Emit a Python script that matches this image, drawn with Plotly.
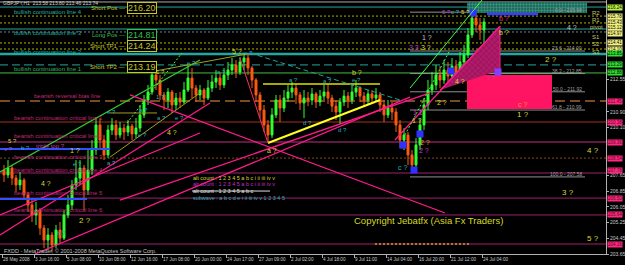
import plotly.graph_objects as go

# ---------------- data ----------------
bar_index = list(range(121))
opens = [207.93, 207.68, 208.03, 207.52, 207.17, 207.42, 206.66, 206.15, 205.64, 205.89,
         204.97, 204.36, 204.62, 204.11, 204.87, 204.46, 205.64, 206.15, 207.17, 207.52,
         208.03, 206.91, 207.93, 208.95, 210.23, 209.46, 208.70, 209.97, 210.23, 209.72,
         210.07, 209.87, 210.17, 209.77, 210.07, 210.74, 211.50, 211.91, 212.78, 212.52,
         211.76, 211.50, 211.91, 211.25, 211.60, 211.40, 212.01, 212.62, 212.11, 211.76,
         212.01, 211.60, 212.11, 212.42, 212.62, 212.27, 212.78, 213.03, 213.29, 212.93,
         213.44, 213.64, 213.13, 212.52, 211.76, 210.99, 210.23, 209.72, 210.74, 211.50,
         211.09, 211.60, 211.91, 212.11, 211.76, 211.35, 211.60, 211.50, 211.81, 211.40,
         211.70, 211.91, 211.60, 211.19, 210.89, 211.40, 211.70, 211.50, 211.91, 212.11,
         211.70, 211.50, 211.81, 211.60, 211.76, 211.25, 210.74, 211.09, 210.89, 210.23,
         209.46, 209.72, 208.70, 208.19, 209.21, 210.23, 211.25, 212.01, 212.27, 212.78,
         212.52, 213.03, 212.72, 213.23, 212.93, 213.44, 213.80, 214.82, 215.68, 215.33,
         215.07]
highs = [208.19, 208.44, 208.19, 207.68, 207.83, 207.52, 206.81, 206.40, 206.30, 205.99,
         205.13, 204.97, 204.77, 205.13, 205.28, 205.89, 206.66, 207.42, 208.44, 208.44,
         208.19, 208.95, 209.46, 210.63, 210.58, 209.72, 210.23, 210.58, 210.48, 210.38,
         210.28, 210.48, 210.28, 210.58, 211.25, 211.76, 212.27, 213.13, 213.39, 212.78,
         211.91, 212.11, 212.01, 211.86, 211.91, 212.42, 213.29, 213.13, 212.27, 212.27,
         212.11, 212.52, 212.78, 213.03, 212.93, 213.13, 213.44, 213.64, 213.54, 213.69,
         213.90, 213.85, 213.23, 212.62, 211.91, 211.25, 210.48, 211.09, 211.76, 211.76,
         212.01, 212.27, 212.42, 212.32, 211.91, 212.01, 211.91, 212.11, 211.91, 212.01,
         212.27, 212.32, 211.76, 211.50, 211.60, 212.01, 211.91, 212.32, 212.52, 212.21,
         211.91, 212.01, 212.01, 212.11, 211.91, 211.50, 211.50, 211.40, 211.09, 210.48,
         210.07, 209.87, 208.95, 209.56, 210.58, 211.60, 212.52, 212.93, 213.29, 213.23,
         213.54, 213.44, 213.64, 213.54, 213.95, 214.31, 215.17, 216.09, 215.94, 215.68,
         215.68]
lows = [207.32, 207.52, 207.17, 206.81, 206.91, 206.40, 205.79, 205.28, 205.13, 204.62,
        203.95, 203.85, 203.75, 203.95, 204.16, 204.36, 205.48, 205.89, 206.91, 207.17,
        205.89, 206.66, 207.68, 208.70, 208.95, 208.44, 208.54, 209.72, 209.46, 209.56,
        209.46, 209.66, 209.46, 209.56, 209.87, 210.58, 211.25, 211.76, 212.01, 211.50,
        210.99, 211.09, 210.84, 210.99, 211.09, 211.30, 211.91, 211.60, 211.40, 211.50,
        211.25, 211.50, 211.91, 212.11, 212.01, 212.11, 212.52, 212.78, 212.62, 212.78,
        213.03, 212.78, 212.11, 211.40, 210.58, 209.87, 209.36, 209.56, 210.58, 210.38,
        210.89, 211.40, 211.60, 211.30, 210.99, 210.58, 211.19, 211.25, 211.09, 211.19,
        211.50, 211.30, 210.89, 210.48, 210.28, 211.19, 211.09, 211.30, 211.65, 211.40,
        211.19, 211.30, 211.35, 211.40, 210.89, 210.38, 210.58, 210.48, 209.87, 209.05,
        208.95, 208.19, 207.78, 207.93, 208.95, 209.97, 210.99, 211.76, 212.01, 212.11,
        212.32, 212.42, 212.52, 212.62, 212.78, 213.13, 213.64, 214.66, 214.97, 214.56,
        213.80]
closes = [207.68, 208.03, 207.52, 207.17, 207.42, 206.66, 206.15, 205.64, 205.89, 204.97,
          204.36, 204.62, 204.11, 204.87, 204.46, 205.64, 206.15, 207.17, 207.52, 208.03,
          206.91, 207.93, 208.95, 210.23, 209.46, 208.70, 209.97, 210.23, 209.72, 210.07,
          209.87, 210.17, 209.77, 210.07, 210.74, 211.50, 211.91, 212.78, 212.52, 211.76,
          211.50, 211.91, 211.25, 211.60, 211.40, 212.01, 212.62, 212.11, 211.76, 212.01,
          211.60, 212.11, 212.42, 212.62, 212.27, 212.78, 213.03, 213.29, 212.93, 213.44,
          213.64, 213.13, 212.52, 211.76, 210.99, 210.23, 209.72, 210.74, 211.50, 211.09,
          211.60, 211.91, 212.11, 211.76, 211.35, 211.60, 211.50, 211.81, 211.40, 211.70,
          211.91, 211.60, 211.19, 210.89, 211.40, 211.70, 211.50, 211.91, 212.11, 211.70,
          211.50, 211.81, 211.60, 211.76, 211.25, 210.74, 211.09, 210.89, 210.23, 209.46,
          209.72, 208.70, 208.19, 209.21, 210.23, 211.25, 212.01, 212.27, 212.78, 212.52,
          213.03, 212.72, 213.23, 212.93, 213.44, 213.80, 214.82, 215.68, 215.33, 215.07,
          215.48]

date_ticks = [-0.5, 7.5, 15.5, 23.5, 31.5, 39.5, 47.5, 55.5, 63.5, 71.5, 79.5, 87.5,
              95.5, 103.5, 111.5, 119.5]
date_labels = ["28 May 2008", "3 Jun 16:00", "5 Jun 08:00", "10 Jun 08:00", "12 Jun 16:00",
               "17 Jun 08:00", "20 Jun 00:00", "24 Jun 17:00", "27 Jun 09:00", "2 Jul 02:00",
               "4 Jul 18:00", "9 Jul 11:00", "14 Jul 04:00", "16 Jul 20:00", "21 Jul 12:00",
               "24 Jul 04:00"]
price_ticks = [203.65, 204.45, 205.25, 206.05, 206.85, 207.65, 210.10, 210.90, 212.55]

# horizontal levels
level_prices = [216.50, 216.24, 215.78, 215.43, 215.12, 214.97, 214.41, 214.10, 213.85,
                213.29, 212.88, 211.45, 210.38, 209.36, 208.54, 207.78, 206.50, 205.64, 204.16]
level_colors = ["#a8a8a8", "#20a8a0", "#b0b000", "#b0b000", "#20a8a0", "#808080", "#b0b000",
                "#b0b000", "#20a8a0", "#20a8a0", "#40c040", "#7a4a20", "#a03020", "#c03080",
                "#8b4513", "#a02070", "#a02070", "#a02070", "#a02070"]
level_widths = [1, 1, 1, 1, 1, 1, 1, 1, 2.5, 1, 1, 2, 1, 1, 1, 1, 1, 1, 1]
level_dashes = ["solid", "solid", "2px,2px", "2px,2px", "solid", "2px,2px", "2px,2px",
                "2px,2px", "solid", "8px,4px", "solid", "10px,5px", "solid", "solid",
                "2px,2px", "solid", "solid", "solid", "solid"]
level_tags = [None, "#b8f040", "#f0f080", "#f0f080", "#f0f080", "#f0f080", "#f0f080",
              "#f0f080", "#30e030", "#30e030", "#30e030", "#ff2a80", "#ff2a80", "#ff2a80",
              "#ff2a80", "#ff2a80", "#ff2a80", "#ff2a80", "#ff2a80"]
level_tag_shift = [0, 0, 0, 0, 1.5, -1.5, 0, 0, 0, 0, 0, 0, 0, 0, 0, 2, 0, 0, 0]

# line names (text, bar index, price, colour)
line_names = ["bullish continuation line 4", "bullish continuation line 3",
              "bullish continuation line 2", "bullish continuation line 1",
              "bearish reversal bias line", "bearish continuation critical line 1",
              "bearish continuation critical line 2", "triple top ?",
              "bearish continuation critical line 3", "bearish continuation critical line 4",
              "bearish continuation critical line 5", "bearish continuation critical line 6"]
line_name_x = [2.25, 2.25, 2.25, 2.25, 7.25, 2.25, 2.25, 7.75, 2.25, 2.25, 2.25, 2.25]
line_name_p = [215.99, 214.92, 213.95, 213.08, 211.70, 210.58, 209.66, 209.16, 208.60,
               207.93, 206.76, 205.89]
line_name_colors = ["#20b0a0", "#20b0a0", "#20b0a0", "#30b060", "#c02878", "#c02878",
                    "#c02878", "#c040a0", "#c02878", "#c02878", "#c02878", "#c02878"]

# position boxes
pos_names = ["Short Pos", "Long Pos", "Short TP1", "Short TP2"]
pos_prices = [216.20, 214.81, 214.24, 213.19]
pos_colors = ["#c8c820", "#30c050", "#c8c820", "#c8c820"]

# fibonacci
fib_levels = ["0.0", "23.6", "38.2", "50.0", "61.8", "100.0"]
fib_prices = [215.98, 214.00, 212.85, 211.92, 210.99, 207.58]
fib_x = [101.5, 145.25]

# trend lines: x0, p0, x1, p1, colour, width, dash
trend_lines = [
    (-1, 207.83, 49, 213.54, "#32cd32", 1.2, "solid"),
    (36.5, 212.93, 60.75, 213.85, "#a0a020", 1, "solid"),
    (26.5, 208.59, 49, 211.86, "#a0a020", 1, "solid"),
    (26.5, 210.84, 38.25, 210.84, "#a0a020", 1, "solid"),
    (66, 209.31, 94, 211.50, "#ffff20", 2, "solid"),
    (64.75, 212.32, 94, 212.32, "#e0e000", 1.5, "solid"),
    (-1, 205.64, 49, 209.82, "#ff1a8c", 1.3, "solid"),
    (-1, 204.62, 51.5, 211.35, "#ff1a8c", 1.3, "solid"),
    (7.75, 203.65, 101.5, 211.65, "#ff1a8c", 1.3, "solid"),
    (29, 206.40, 106.5, 211.86, "#ff1a8c", 1.3, "solid"),
    (31.5, 211.76, 110.25, 205.74, "#ff1a8c", 1.3, "solid"),
    (97.75, 209.46, 124, 215.27, "#ff1a8c", 1.3, "solid"),
    (101.5, 212.11, 119.5, 216.60, "#40ff40", 1, "solid"),
    (30.75, 210.33, 44.5, 213.90, "#40ff40", 1, "2px,2px"),
    (100.25, 209.72, 111.5, 214.05, "#40ff40", 1, "2px,2px"),
    (61.5, 213.90, 99, 211.50, "#20a0a0", 1, "5px,3px"),
    (59, 213.64, 66, 209.31, "#ff3070", 1, "solid"),
    (92.75, 204.16, 116.5, 204.16, "#d0a020", 1.5, "2px,2px"),
    (-1, 209.00, 26.5, 209.00, "#3050ff", 2, "solid"),
    (-1, 206.45, 20.75, 206.45, "#3050ff", 2, "solid"),
    (120.75, 215.88, 133.5, 215.88, "#3a3aff", 2.5, "solid"),
]

# wave labels: bar index, price, text, colour, size
wave_labels = [
    (58.25, 214.00, "5 ?", "#d8d830", 7), (61, 213.90, "e ?", "#20b0c0", 6),
    (88.25, 212.88, "b ?", "#d8d830", 7), (88, 212.50, "e ?", "#20b0c0", 6),
    (54.25, 212.93, "a ?", "#20b0c0", 6), (72.25, 212.52, "a ?", "#20b0c0", 6),
    (80.75, 212.47, "a ?", "#20b0c0", 6), (39, 212.93, "1 ?", "#d8d830", 6),
    (46.75, 213.39, "e ?", "#20b0c0", 6), (26.75, 210.89, "e ?", "#20b0c0", 6),
    (26.75, 208.30, "a ?", "#20b0c0", 6), (17.75, 208.95, "1 ?", "#d8d830", 7),
    (18.25, 208.24, "e ?", "#20b0c0", 6), (34.75, 210.99, "a ?", "#20b0c0", 6),
    (34.5, 209.72, "e ?", "#20b0c0", 6), (39, 211.65, "1 ?", "#20b0c0", 6),
    (39.25, 210.58, "a ?", "#20b0c0", 6), (43.75, 210.58, "e ?", "#20b0c0", 6),
    (42, 209.82, "4 ?", "#d8d830", 7), (2, 209.40, "5 ?", "#d8d830", 6),
    (1, 208.98, "v ?", "#c040c0", 6), (5.25, 209.06, "b ?", "#20b0c0", 6),
    (10.5, 207.27, "4 ?", "#d8d830", 7), (20.25, 205.38, "2 ?", "#d8d830", 8),
    (14.25, 204.72, "b ?", "#20b0c0", 6), (67, 208.95, "a ?", "#d8d830", 7),
    (75.75, 210.33, "d ?", "#20b0c0", 6), (84.5, 209.97, "d ?", "#20b0c0", 6),
    (99.5, 208.08, "c ?", "#20b0c0", 7), (110.5, 215.99, "5 ?", "#c040c0", 6),
    (112.75, 215.99, "c ?", "#20b0c0", 6), (115.25, 215.99, "5 ?", "#d8d830", 6),
    (125, 215.68, "b ?", "#e03090", 7), (125, 214.92, "b ?", "#d8d830", 7),
    (142, 215.22, "4 ?", "#c0c0c0", 7), (105.75, 214.71, "1 ?", "#c0c0c0", 7),
    (102.5, 214.20, "3 3", "#c040c0", 7), (105.5, 214.20, "3 ?", "#d8d830", 7),
    (136.75, 213.59, "2 ?", "#d8d830", 8), (121.75, 212.62, "3 ?", "#e03090", 6),
    (114, 212.42, "4 ?", "#d8d830", 7), (109.5, 211.35, "2 ?", "#d8d830", 7),
    (129.5, 211.25, "c ?", "#ff9020", 7), (129.75, 210.74, "1 ?", "#d8d830", 8),
    (103.5, 210.89, "1 1", "#c040c0", 7), (103.25, 210.48, "1 ?", "#d8d830", 7),
    (105.25, 209.31, "2 ?", "#ff9020", 7), (105, 208.95, "2 ?", "#c040c0", 7),
    (147.25, 208.95, "4 ?", "#d8d830", 8), (141, 206.81, "3 ?", "#d8d830", 8),
    (147.25, 204.46, "5 ?", "#d8d830", 8),
]

pivot_names = ["R2", "R1", "pivot", "S1", "S2", "S3"]
pivot_prices = [215.94, 215.58, 215.22, 214.71, 214.36, 213.95]

count_texts = ["alt count : 1 2 3 4 5 a b c i ii iii iv v",
               "alt count : 1 2 3 4 5 a b c i ii iii iv v",
               "alt count : 1 2 3 4 5 a b c",
               "subwave : a b c d e i ii iii iv v 1 2 3 4 5"]
count_prices = [207.52, 207.20, 206.86, 206.50]
count_colors = ["#d8d830", "#c030c0", "#e0e0e0", "#20b0b0"]

# boxes
pink_box = dict(x=[115.75, 137], p=[211.04, 212.78])
green_box = dict(x=[115.75, 145.75], p=[215.94, 216.50])
triangle = dict(x=[109, 124, 124], p=[212.01, 215.27, 213.03])
blue_marks_x = [99.75, 102.5, 104, 111.75, 117.25]
blue_marks_p = [209.20, 207.93, 209.77, 212.98, 215.94]
purple_marks_x = [123.5]
purple_marks_p = [212.93]

FONT = "Liberation Sans, Arial, sans-serif"

fig = go.Figure()

# fills
fig.add_trace(go.Scatter(
    x=[green_box["x"][0], green_box["x"][1], green_box["x"][1], green_box["x"][0]],
    y=[green_box["p"][0], green_box["p"][0], green_box["p"][1], green_box["p"][1]],
    fill="toself", mode="lines", line=dict(width=0, color="#40a090"),
    fillcolor="#1d5a50",
    fillpattern=dict(shape=".", fgcolor="#50d0b0", bgcolor="#1d5a50", size=3, solidity=0.5),
    hoverinfo="skip"))
fig.add_trace(go.Scatter(
    x=[pink_box["x"][0], pink_box["x"][1], pink_box["x"][1], pink_box["x"][0]],
    y=[pink_box["p"][0], pink_box["p"][0], pink_box["p"][1], pink_box["p"][1]],
    fill="toself", mode="lines", line=dict(width=0), fillcolor="#ff1464", hoverinfo="skip"))
fig.add_trace(go.Scatter(
    x=triangle["x"], y=triangle["p"], fill="toself", mode="lines",
    line=dict(width=1, color="#ff1a8c"), fillcolor="#9a1458",
    fillpattern=dict(shape="x", fgcolor="#6a0a40", bgcolor="#b01a68", size=4, solidity=0.3),
    hoverinfo="skip"))

# candles
fig.add_trace(go.Candlestick(
    x=bar_index, open=opens, high=highs, low=lows, close=closes,
    increasing=dict(line=dict(color="#30ff30", width=1), fillcolor="#30ff30"),
    decreasing=dict(line=dict(color="#ff5a10", width=1), fillcolor="#ff5a10"),
    whiskerwidth=0, hoverinfo="skip"))

# markers
fig.add_trace(go.Scatter(x=blue_marks_x, y=blue_marks_p, mode="markers",
                         marker=dict(symbol="square", size=7, color="#3030ff"), hoverinfo="skip"))
fig.add_trace(go.Scatter(x=purple_marks_x, y=purple_marks_p, mode="markers",
                         marker=dict(symbol="square", size=7, color="#8040ff"), hoverinfo="skip"))

shapes = []
for p, c, w, d in zip(level_prices, level_colors, level_widths, level_dashes):
    shapes.append(dict(type="line", xref="paper", x0=0, x1=1, yref="y", y0=p, y1=p,
                       line=dict(color=c, width=w, dash=d), layer="below"))
for fp in fib_prices:
    shapes.append(dict(type="line", xref="x", x0=fib_x[0], x1=fib_x[1], yref="y", y0=fp, y1=fp,
                       line=dict(color="#909090", width=1), layer="below"))
for x0, p0, x1, p1, c, w, d in trend_lines:
    shapes.append(dict(type="line", xref="x", x0=x0, x1=x1, yref="y", y0=p0, y1=p1,
                       line=dict(color=c, width=w, dash=d), layer="above"))
# strike line through the white count text
shapes.append(dict(type="line", xref="x", x0=47, x1=66.5, yref="y",
                   y0=count_prices[2], y1=count_prices[2], line=dict(color="#e0e0e0", width=1)))

ann = []
def txt(x, y, t, color, size, xanchor="left", xref="x", **kw):
    ann.append(dict(x=x, y=y, xref=xref, yref="y", text=t, showarrow=False,
                    xanchor=xanchor, yanchor="middle",
                    font=dict(family=FONT, size=size, color=color), **kw))

for n, x, p, c in zip(line_names, line_name_x, line_name_p, line_name_colors):
    txt(x, p, n, c, 6, borderpad=0)

for n, p, c in zip(pos_names, pos_prices, pos_colors):
    txt(30.5, p, n + " \u2014", c, 6, xanchor="right", borderpad=0)
    txt(30.75, p, f"{p:.2f}", c, 9, bordercolor=c, borderwidth=1, borderpad=0, bgcolor="#000000")

for lv, fp in zip(fib_levels, fib_prices):
    txt(144.75, fp + 0.13, f"{lv} - {fp:.2f}", "#a0a0a0", 5, xanchor="right", borderpad=0)

for x, p, t, c, s in wave_labels:
    txt(x, p, t, c, s, xanchor="center", borderpad=0)

for n, p in zip(pivot_names, pivot_prices):
    txt(148, p, n, "#c8c870", 6, xanchor="center", borderpad=0)

for t, p, c in zip(count_texts, count_prices, count_colors):
    txt(47, p, t, c, 5.5, borderpad=0)

# price tags on the right axis
for p, tag, sh in zip(level_prices, level_tags, level_tag_shift):
    if tag is None:
        continue
    tc = "#000000" if tag != "#ff2a80" else "#5a0020"
    ann.append(dict(x=1, y=p, xref="paper", yref="y", text=f"{p:.2f}", showarrow=False,
                    xanchor="left", yanchor="middle", xshift=1, yshift=sh, bgcolor=tag,
                    borderpad=0, font=dict(family=FONT, size=4.5, color=tc)))

txt(-0.5, 216.45, "GBPJPY,H1  213.58 213.80 213.46 213.74", "#d0d0d0", 5, borderpad=0)
txt(-0.25, 203.82, "FXDD - MetaTrader, \u00a9 2001-2008 MetaQuotes Software Corp.", "#c0c0c0", 5.5,
    borderpad=0)
txt(87, 205.35, "Copyright Jebatfx (Asia Fx Traders)", "#d8d820", 9.5)

fig.update_layout(
    width=625, height=265, margin=dict(l=0, r=19, t=0, b=11),
    paper_bgcolor="#000000", plot_bgcolor="#000000", showlegend=False,
    shapes=shapes, annotations=ann,
    xaxis=dict(range=[-1, 150.5], showgrid=False, zeroline=False, showline=True,
               linecolor="#b0b0b0", linewidth=1, ticks="outside", ticklen=3,
               tickcolor="#b0b0b0", tickvals=date_ticks, ticktext=date_labels,
               tickangle=0, tickfont=dict(family=FONT, size=4.6, color="#c8c8c8"),
               ticklabelposition="outside right", rangeslider=dict(visible=False),
               fixedrange=True),
    yaxis=dict(range=[203.65, 216.60], side="right", showgrid=False, zeroline=False,
               showline=True, linecolor="#b0b0b0", linewidth=1, ticks="outside", ticklen=2,
               tickcolor="#b0b0b0", tickvals=price_ticks,
               ticktext=[f"{v:.2f}" for v in price_ticks],
               tickfont=dict(family=FONT, size=5, color="#c8c8c8"), fixedrange=True),
)

fig.write_html("out.html")
